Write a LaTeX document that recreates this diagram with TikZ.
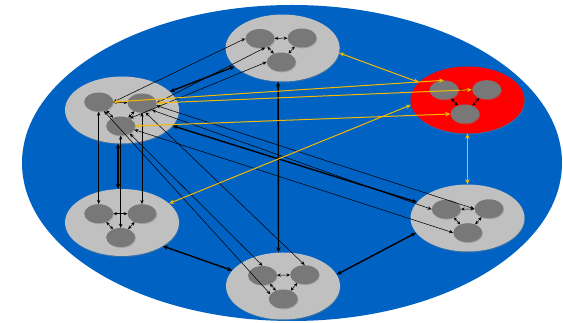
\documentclass[tikz,border=0pt]{standalone}
\usetikzlibrary{shapes.geometric,arrows.meta,shadows}
\definecolor{bigblue}{RGB}{0,99,196}
\definecolor{clgray}{RGB}{192,192,192}
\definecolor{ndgray}{RGB}{120,120,120}
\definecolor{ylw}{RGB}{246,184,0}
\definecolor{redc}{RGB}{255,0,0}
\tikzset{
  cluster/.style={ellipse, fill=clgray, minimum width=114pt, minimum height=67pt, inner sep=0pt,
    drop shadow={shadow xshift=0.6pt, shadow yshift=-1.2pt, opacity=0.35}},
  redcluster/.style={cluster, fill=redc},
  sub/.style={ellipse, fill=ndgray, minimum width=29pt, minimum height=19pt, inner sep=0pt,
    drop shadow={shadow xshift=0.7pt, shadow yshift=-0.9pt, opacity=0.4}},
  inner/.style={>={Stealth[length=3.5pt,width=3.2pt]}, <->, line width=0.5pt, black},
  link/.style={>={Stealth[length=4pt,width=3.4pt]}, <->, line width=0.55pt, black},
  thicklink/.style={>={Stealth[length=5pt,width=4.5pt]}, <->, line width=1.4pt, black},
  ylink/.style={>={Stealth[length=5pt,width=4.5pt]}, <->, line width=1pt, ylw},
}
\begin{document}
\begin{tikzpicture}[x=1pt,y=-1pt]
\useasboundingbox (0,0) rectangle (563,323);
\fill[white] (0,0) rectangle (563,323);
\node[ellipse, fill=bigblue, minimum width=540pt, minimum height=316pt, inner sep=0pt] (world) at (292,163) {};

% clusters
\node[cluster] (T) at (282.6,48) {};
\node[cluster] (LT) at (122,110) {};
\node[redcluster] (R) at (467.5,100) {};
\node[cluster] (LB) at (122,222.5) {};
\node[cluster] (B) at (283,286) {};
\node[cluster] (RB) at (467.5,218) {};

% member nodes
\node[sub] (T-l) at (260,38.5) {};
\node[sub] (T-r) at (302,38) {};
\node[sub] (T-b) at (281.3,62) {};
\node[sub] (LT-l) at (98.7,102) {};
\node[sub] (LT-r) at (142,103) {};
\node[sub] (LT-b) at (120.7,126) {};
\node[sub] (R-l) at (444,90) {};
\node[sub] (R-r) at (486.7,89.7) {};
\node[sub] (R-b) at (465,114) {};
\node[sub] (LB-l) at (98.7,213.7) {};
\node[sub] (LB-r) at (142,213.7) {};
\node[sub] (LB-b) at (120.7,237.5) {};
\node[sub] (B-l) at (262.5,275.5) {};
\node[sub] (B-r) at (304.7,274.7) {};
\node[sub] (B-b) at (283.3,299) {};
\node[sub] (RB-l) at (446.3,209.3) {};
\node[sub] (RB-r) at (489,208.8) {};
\node[sub] (RB-b) at (467.8,232.7) {};

% internal links
\foreach \cn in {T,LT,R,LB,B,RB}{
  \draw[inner] (\cn-l) -- (\cn-r);
  \draw[inner] (\cn-l) -- (\cn-b);
  \draw[inner] (\cn-r) -- (\cn-b);
}

% thin black links
\draw[link] (LT-l.east) -- (T-l.west);
\draw[link] (LT-r.east) -- (T-l.-60);
\draw[link] (LT-b.40) -- (T-b.west);
\draw[link] (LT-l.south) -- (LB-l.north);
\draw[link] (LT-r.south) -- (LB-r.north);
\draw[link] (LT-b.south) -- (LB-b.north);
\draw[link] (LT-l.-60) -- (B-b.160);
\draw[link] (LT-b.-40) -- (B-l.north);
\draw[link] (LT-r.-70) -- (B-r.north);
\draw[link] (LT-r.-10) -- (RB-r.west);
\draw[link] (LT-r.-35) -- (RB-l.west);
\draw[link] (LT-b.-15) -- (RB-b.west);

% thick cluster links
\draw[thicklink] (LT) -- (T);
\draw[thicklink] (LT) -- (RB);
\draw[thicklink] ([xshift=-4pt]LT.south) -- ([xshift=-4pt]LB.north);
\draw[thicklink] (LB.-30) -- (B.163);
\draw[thicklink] ([xshift=-4.5pt]T.south) -- ([xshift=-4.5pt]B.north);
\draw[thicklink] (B.12) -- (RB.196);

% yellow links
\draw[ylink] (T.-5) -- (R.160);
\draw[ylink] (R.south) -- (RB.north);
\draw[ylink] (LB.22) -- (R.185);
\draw[ylink] (LT-l.east) -- (R-l.north);
\draw[ylink] (LT-r.east) -- (R-r.west);
\draw[ylink] (LT-b.east) -- (R-b.west);
\end{tikzpicture}
\end{document}
